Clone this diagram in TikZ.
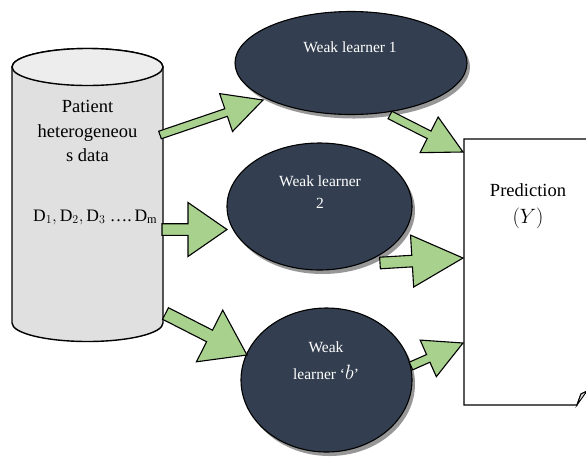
\documentclass[tikz,border=0pt]{standalone}
\usepackage{fontspec}
\setmainfont{Liberation Serif}
\usetikzlibrary{calc,shapes.geometric,shadows}
\definecolor{navy}{HTML}{333F50}
\definecolor{agreen}{HTML}{A9D18E}
\definecolor{cylbody}{HTML}{E0E0E0}
\definecolor{cyltop}{HTML}{EDEDED}
% tail, tip, shaft half width, head half width, head length
\newcommand{\blockarrow}[5]{%
  \coordinate (bac) at ($(#2)!#5!(#1)$);
  \draw[barrow] ($(#1)!#3!90:(#2)$) -- ($(bac)!#3!90:(#2)$) -- ($(bac)!#4!90:(#2)$)
    -- (#2) -- ($(bac)!#4!-90:(#2)$) -- ($(bac)!#3!-90:(#2)$) -- ($(#1)!#3!-90:(#2)$) -- cycle;}
\tikzset{
  barrow/.style={draw=black, line width=1.1pt, fill=agreen, line join=miter},
  wl/.style={ellipse, draw=black, line width=1.1pt, fill=navy, inner sep=0pt,
    drop shadow={shadow xshift=3pt, shadow yshift=-4pt, fill=black!45, opacity=0.9}},
  wltext/.style={text=white, align=center, font=\fontsize{15.5}{22}\selectfont},
  bigtext/.style={align=center, font=\fontsize{18.5}{24.5}\selectfont},
}
\begin{document}
\begin{tikzpicture}[x=1pt,y=-1pt]
\useasboundingbox (0,0) rectangle (586,459);
\clip (0,0) rectangle (586,459);
\fill[white] (0,0) rectangle (586,459);
% cylinder
\draw[line width=1.4pt, fill=cylbody] (12,67) -- (12,323)
  arc[start angle=180, end angle=360, x radius=75.5pt, y radius=18.5pt]
  -- (163,67) arc[start angle=0, end angle=180, x radius=75.5pt, y radius=18.5pt] -- cycle;
\draw[line width=1.4pt, fill=cyltop] (87.5,67) ellipse[x radius=75.5pt, y radius=18.5pt];
\node[bigtext] (ptxt) at (87.5,131) {Patient\\heterogeneou\\s data};
\node[anchor=west, inner sep=0pt, font=\fontsize{17.5}{19}\selectfont] (dtxt) at (33,217)
  {$\mathrm{D}_1,\mathrm{D}_2,\mathrm{D}_3$ ….\,$\mathrm{D}_\mathrm{m}$};
% document
\node[minimum width=128pt, minimum height=266pt, inner sep=0pt, anchor=north west] (pred) at (464,139) {};
\draw[line width=1.3pt, fill=white] (592,139) -- (464,139) -- (464,405) -- (577,405)
  .. controls (579,399) .. (581,394) -- (592,389);
\draw[line width=0.9pt, fill=gray!25] (577,405) .. controls (579,399) .. (581,394) -- (587,391) -- cycle;
\node[bigtext, font=\fontsize{18.5}{27}\selectfont] (ptext) at (528,206) {Prediction\\{\fontsize{20}{20}\selectfont$(Y)$}};
% weak learners
\node[wl, minimum width=232pt, minimum height=103pt] (wl1) at (351,63) {};
\node[wl, minimum width=185pt, minimum height=127pt] (wl2) at (319.5,206.5) {};
\node[wl, minimum width=171pt, minimum height=144pt] (wlb) at (326.5,380) {};
\node[wltext] at (350,47) {Weak learner 1};
\node[wltext] at (320,192) {Weak learner\\2};
\node[wltext, font=\fontsize{15.5}{27}\selectfont] at (326,361) {Weak\\learner ‘{\fontsize{22}{22}\selectfont$b$}’};
% arrow end points
\coordinate (a1s) at (160,135);   \coordinate (a1e) at (263,100);
\coordinate (a2s) at (390,115);   \coordinate (a2e) at (463,152);
\coordinate (a3s) at (162,229.5); \coordinate (a3e) at (227,229.5);
\coordinate (a4s) at (380,263);   \coordinate (a4e) at (463,258);
\coordinate (a5s) at (165.5,313.5); \coordinate (a5e) at (247,355);
\coordinate (a6s) at (411,366);   \coordinate (a6e) at (463,343);
\blockarrow{a1s}{a1e}{4pt}{20pt}{39pt}
\blockarrow{a2s}{a2e}{4.2pt}{20pt}{38pt}
\blockarrow{a3s}{a3e}{5.8pt}{27pt}{39pt}
\blockarrow{a4s}{a4e}{5.8pt}{26pt}{51pt}
\blockarrow{a5s}{a5e}{6.5pt}{29pt}{42pt}
\blockarrow{a6s}{a6e}{4.2pt}{20pt}{38pt}
\end{tikzpicture}
\end{document}
